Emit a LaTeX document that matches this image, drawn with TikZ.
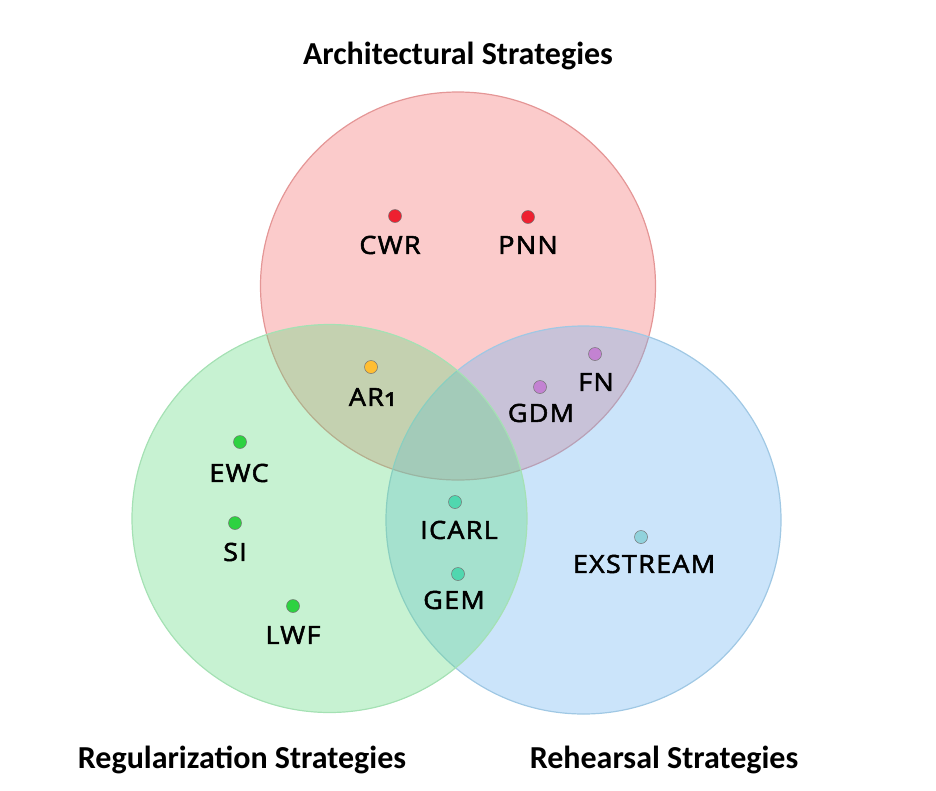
\documentclass[tikz,border=0pt]{standalone}
\usepackage{fontspec}
\usetikzlibrary{shapes.geometric}
\setmainfont{Carlito}
\newfontfamily\lblfont[Numbers=OldStyle,FakeBold=2.2,FakeStretch=1.08,LetterSpace=5]{Open Sans}
\definecolor{redfill}{RGB}{245,110,110}
\definecolor{greenfill}{RGB}{100,220,130}
\definecolor{bluefill}{RGB}{110,180,240}
\definecolor{reddraw}{RGB}{228,150,150}
\definecolor{greendraw}{RGB}{165,225,180}
\definecolor{bluedraw}{RGB}{160,200,228}
\definecolor{dotred}{RGB}{238,32,48}
\definecolor{dotorange}{RGB}{255,190,50}
\definecolor{dotpurple}{RGB}{195,130,210}
\definecolor{dotgreen}{RGB}{45,210,65}
\definecolor{dotteal}{RGB}{80,215,175}
\definecolor{dotblue}{RGB}{145,210,220}
\begin{document}
\begin{tikzpicture}[x=1pt,y=-1pt,
  setcirc/.style={ellipse,minimum width=395pt,minimum height=388pt,inner sep=0pt,fill opacity=0.36,line width=1.2pt},
  dotnode/.style={circle,minimum size=13pt,inner sep=0pt,draw=black!55,line width=0.5pt},
  lbl/.style={font=\lblfont\fontsize{25}{28}\selectfont,inner sep=0pt,text=black},
  ttl/.style={font=\bfseries\fontsize{32}{36}\selectfont,inner sep=0pt}]
\useasboundingbox (0,0) rectangle (936,790);
\node[setcirc,fill=redfill,draw=reddraw] (arch) at (458,286) {};
\node[setcirc,fill=bluefill,draw=bluedraw] (reh) at (583.5,520) {};
\node[setcirc,fill=greenfill,draw=greendraw] (reg) at (329.5,518.5) {};
\node[ttl] (tarch) at (458,56) {Architectural Strategies};
\node[ttl] (treg) at (242,760) {Regularization Strategies};
\node[ttl] (treh) at (664,760) {Rehearsal Strategies};
\node[dotnode,fill=dotred] (dcwr) at (395,216) {};
\node[dotnode,fill=dotred] (dpnn) at (528,217) {};
\node[dotnode,fill=dotorange] (dar) at (371,367) {};
\node[dotnode,fill=dotpurple] (dfn) at (595,354) {};
\node[dotnode,fill=dotpurple] (dgdm) at (540,387) {};
\node[dotnode,fill=dotgreen] (dewc) at (240,442) {};
\node[dotnode,fill=dotgreen] (dsi) at (235,523) {};
\node[dotnode,fill=dotgreen] (dlwf) at (293,606) {};
\node[dotnode,fill=dotteal] (dicarl) at (455,502) {};
\node[dotnode,fill=dotteal] (dgem) at (458,574) {};
\node[dotnode,fill=dotblue] (dex) at (641,537) {};
\node[lbl] (lcwr) at (390,245) {CWR};
\node[lbl] (lpnn) at (528,245) {PNN};
\node[lbl] (lar) at (372,397) {AR1};
\node[lbl] (lfn) at (596,382) {FN};
\node[lbl] (lgdm) at (541,413) {GDM};
\node[lbl] (lewc) at (239,473) {EWC};
\node[lbl] (lsi) at (235,552) {SI};
\node[lbl] (llwf) at (293,635) {LWF};
\node[lbl] (licarl) at (459,530) {ICARL};
\node[lbl] (lgem) at (454,600) {GEM};
\node[lbl] (lex) at (644,564) {EXSTREAM};
\end{tikzpicture}
\end{document}
